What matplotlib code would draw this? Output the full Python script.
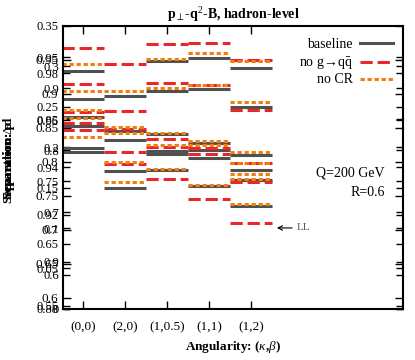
import matplotlib
matplotlib.use("Agg")
import matplotlib.pyplot as plt
from matplotlib.lines import Line2D

plt.rcParams['font.family'] = ['Liberation Serif', 'DejaVu Serif']
plt.rcParams['mathtext.fontset'] = 'custom'
plt.rcParams['mathtext.rm'] = 'Liberation Serif'
plt.rcParams['mathtext.it'] = 'Liberation Serif:italic'
plt.rcParams['mathtext.bf'] = 'Liberation Serif:bold'

# categories (kappa, beta)
categories = ['(0,0)', '(2,0)', '(1,0.5)', '(1,1)', '(1,2)']

# separation values per angularity (several observables overlaid)
baseline = [
    [0.934, 0.892, 0.866, 0.853, 0.821, 0.815],
    [0.897, 0.845, 0.833, 0.787, 0.761],
    [0.948, 0.904, 0.841, 0.816, 0.811, 0.788],
    [0.953, 0.907, 0.828, 0.817, 0.806, 0.764],
    [0.938, 0.881, 0.810, 0.788, 0.773, 0.735],
]
no_g_qq = [
    [0.968, 0.915, 0.873, 0.858, 0.847],
    [0.944, 0.875, 0.849, 0.815, 0.797],
    [0.974, 0.916, 0.834, 0.822, 0.775],
    [0.975, 0.913, 0.820, 0.812, 0.746],
    [0.950, 0.877, 0.799, 0.771, 0.710],
]
no_cr = [
    [0.944, 0.905, 0.876, 0.865, 0.837],
    [0.905, 0.851, 0.842, 0.800, 0.770],
    [0.951, 0.909, 0.842, 0.825, 0.790],
    [0.960, 0.913, 0.831, 0.825, 0.766],
    [0.948, 0.888, 0.814, 0.799, 0.783, 0.775, 0.738],
]

# overlaid y axes from the different panels (range, ticks)
axis_ranges = [(0.584, 1.0), (0.0, 0.35), (0.88, 1.0), (0.545, 1.0)]
axis_ticks = [
    [0.6, 0.65, 0.7, 0.75, 0.8, 0.85, 0.9, 0.95],
    [0, 0.05, 0.1, 0.15, 0.2, 0.25, 0.3, 0.35],
    [0.88, 0.9, 0.92, 0.94, 0.96, 0.98],
    [0.55, 0.6, 0.65, 0.7, 0.75, 0.8, 0.85, 0.9, 0.95],
]

GRAY = '#505050'
RED = '#e8262b'
ORANGE = '#f07f0d'

fig = plt.figure(figsize=(4.15, 3.6), dpi=100)
rect = [0.152, 0.142, 0.819, 0.786]

# extra panels: only their y axes are visible
for i in range(1, len(axis_ranges)):
    axo = fig.add_axes(rect, frameon=False, label='panel%d' % i)
    axo.set_ylim(axis_ranges[i])
    axo.set_yticks(axis_ticks[i])
    axo.set_yticklabels([('%g' % t) for t in axis_ticks[i]])
    axo.set_xticks([])
    axo.patch.set_visible(False)
    axo.tick_params(axis='y', direction='in', left=True, right=True,
                    labelleft=True, labelright=False, length=5, width=1,
                    labelsize=9, pad=3)

ax = fig.add_axes(rect, label='main')
ax.patch.set_visible(False)
ax.set_xlim(-0.48, 7.62)
ax.set_ylim(axis_ranges[0])

for i in range(len(categories)):
    ax.hlines(baseline[i], i - 0.5, i + 0.5, color=GRAY, lw=2.2)
    ax.hlines(no_g_qq[i], i - 0.5, i + 0.5, color=RED, lw=2.2,
              linestyles=(0, (4, 1.6)))
    ax.hlines(no_cr[i], i - 0.5, i + 0.5, color=ORANGE, lw=2.2,
              linestyles=(0, (1.4, 0.9)))

ax.set_yticks(axis_ticks[0])
ax.set_yticklabels([('%g' % t) for t in axis_ticks[0]])
ax.set_xticks(range(len(categories)))
ax.set_xticklabels(categories)
ax.tick_params(axis='both', direction='in', top=True, right=True,
               length=6, width=1, labelsize=9.5)
ax.tick_params(axis='x', pad=9)
for s in ax.spines.values():
    s.set_linewidth(1.5)

ax.set_xlabel(r'Angularity: ($\kappa$,$\beta$)', fontsize=9.5,
              fontweight='bold', labelpad=4)
ax.set_title(r'p$_{\perp}$-q$^{2}$-B, hadron-level', fontsize=10,
             fontweight='bold', pad=5)

# overlapping y labels of the stacked panels
for suffix in [r'p', r'$\Delta$d', r'$\epsilon$']:
    fig.text(0.022, 0.555, 'Separation: ' + suffix, rotation=90,
             ha='center', va='center', fontsize=9.5, fontweight='bold')

# legend, drawn by hand so the text is right aligned
legend_rows = [('baseline', GRAY, '-', 0.933),
               ('no g\u2192q' + r'$\bar{\rm q}$', RED, (0, (4, 1.6)), 0.866),
               ('no CR', ORANGE, (0, (1.4, 0.9)), 0.809)]
for txt, col, ls, yy in legend_rows:
    ax.text(0.853, yy, txt, transform=ax.transAxes, ha='right', va='center',
            fontsize=10)
    ax.add_line(Line2D([0.874, 0.97], [yy + 0.005, yy + 0.005],
                       transform=ax.transAxes, color=col, lw=2.2, ls=ls))

ax.text(0.947, 0.481, 'Q=200 GeV', transform=ax.transAxes, ha='right',
        va='center', fontsize=10)
ax.text(0.947, 0.413, 'R=0.6', transform=ax.transAxes, ha='right',
        va='center', fontsize=10)

ax.annotate('LL', xy=(0.629, 0.286), xytext=(0.686, 0.286),
            xycoords='axes fraction', textcoords='axes fraction',
            ha='left', va='center', fontsize=8, color='#555555',
            arrowprops=dict(arrowstyle='->', color='black', lw=0.8,
                            shrinkA=1, shrinkB=0))

plt.savefig('out.png', dpi=100)
